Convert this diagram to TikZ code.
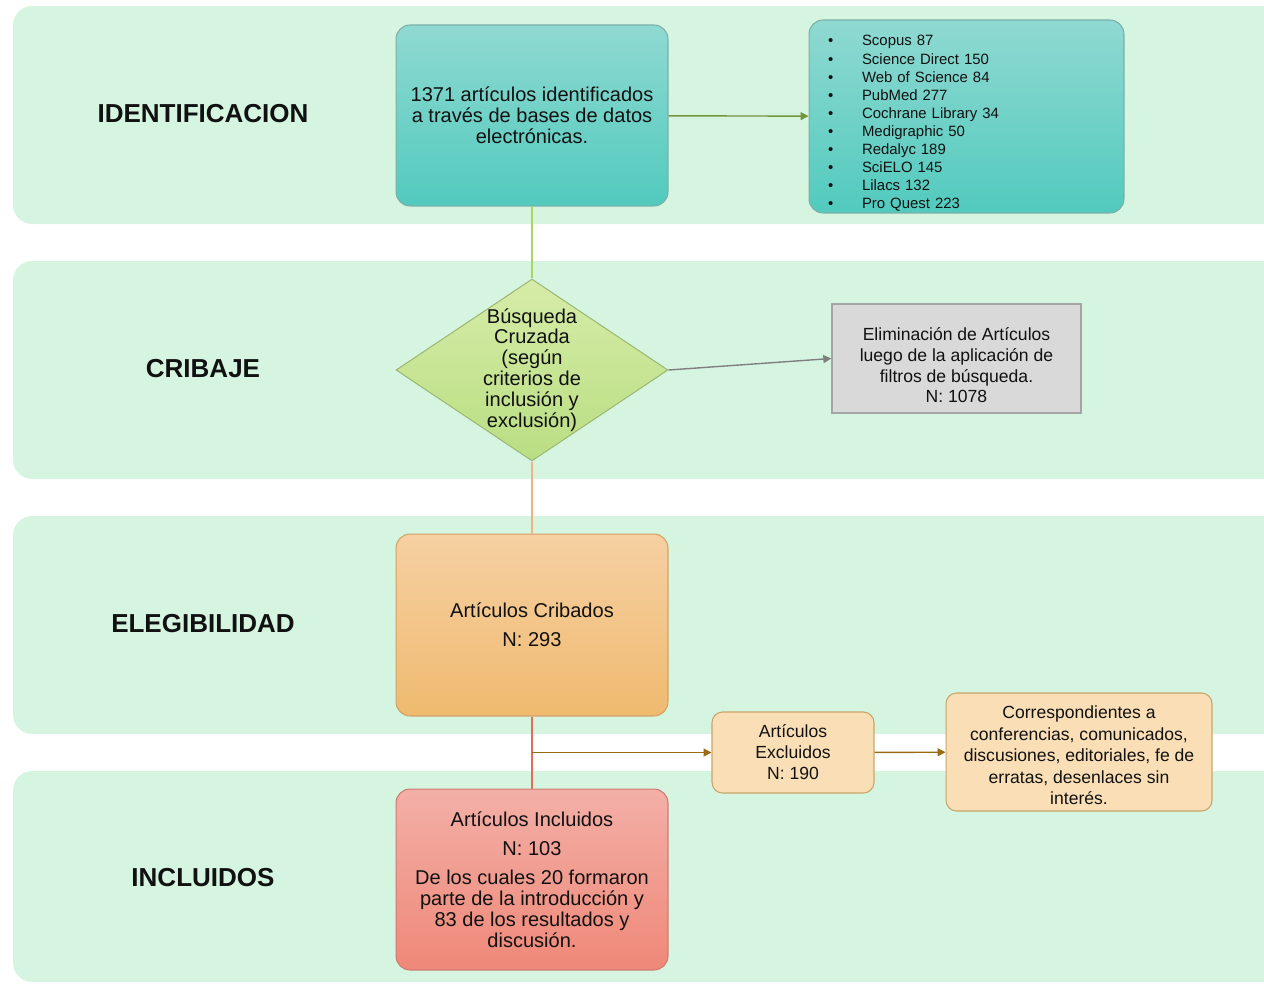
\documentclass[tikz,border=0pt]{standalone}
\usepackage{fontspec}
\setmainfont{Liberation Sans}
\usepackage{tikz}
\usetikzlibrary{shapes.geometric,arrows.meta,positioning}
\definecolor{band}{HTML}{D5F5E1}
\definecolor{ink}{HTML}{111111}
\definecolor{tealtop}{HTML}{8FD9D1}
\definecolor{tealbot}{HTML}{52CABE}
\definecolor{tealedge}{HTML}{7BAFA8}
\definecolor{limetop}{HTML}{D6ECA8}
\definecolor{limebot}{HTML}{B9DE82}
\definecolor{limeedge}{HTML}{9DB874}
\definecolor{greyfill}{HTML}{D9D9D9}
\definecolor{greyedge}{HTML}{A5A5A5}
\definecolor{orgtop}{HTML}{F6D0A2}
\definecolor{orgbot}{HTML}{EFBA6F}
\definecolor{orgedge}{HTML}{D2A266}
\definecolor{pinktop}{HTML}{F3AFA7}
\definecolor{pinkbot}{HTML}{EF8878}
\definecolor{pinkedge}{HTML}{CF7A72}
\definecolor{wheat}{HTML}{FADFB6}
\definecolor{wheatedge}{HTML}{C9A46A}
\definecolor{lime}{HTML}{A9D65E}
\definecolor{olive}{HTML}{77933C}
\definecolor{orgline}{HTML}{F4B183}
\definecolor{redline}{HTML}{E46C5C}
\definecolor{brown}{HTML}{9A6A14}
\definecolor{greyline}{HTML}{7F7F7F}
\tikzset{
  zone/.style={fill=band, rounded corners=11pt},
  phase/.style={text=ink, font=\bfseries\fontsize{14.8}{17}\selectfont},
  txt/.style={text=ink, font=\fontsize{11.4}{11.9}\selectfont, align=center},
  small/.style={text=ink, font=\fontsize{10}{11.9}\selectfont, align=center},
  card/.style={draw, line width=0.6pt, rounded corners=8pt, minimum width=5.44cm},
  tealbox/.style={card, txt, draw=tealedge, top color=tealtop, bottom color=tealbot, minimum height=3.62cm},
  listbox/.style={draw=tealedge, line width=0.6pt, rounded corners=8pt, top color=tealtop, bottom color=tealbot,
    minimum width=6.3cm, minimum height=3.86cm, text width=5.54cm, inner ysep=0pt, align=left, text=ink,
    font=\fontsize{8.5}{10.3}\selectfont},
  decision/.style={diamond, draw=limeedge, line width=0.6pt, top color=limetop, bottom color=limebot,
    inner sep=0pt, minimum width=5.44cm, minimum height=3.64cm},
  greybox/.style={small, draw=greyedge, line width=0.8pt, fill=greyfill, minimum width=4.98cm, minimum height=2.18cm},
  orgbox/.style={card, txt, draw=orgedge, top color=orgtop, bottom color=orgbot, minimum height=3.64cm},
  pinkbox/.style={card, txt, draw=pinkedge, top color=pinktop, bottom color=pinkbot, minimum height=3.62cm},
  wheatbox/.style={small, draw=wheatedge, line width=0.6pt, fill=wheat, rounded corners=6pt},
  link/.style={line width=0.8pt},
  arr/.style={link, -{Triangle[length=1.6mm,width=1.6mm]}},
}
\newcommand{\itm}[1]{\makebox[0.68cm][l]{\textbullet}#1}

\begin{document}
\begin{tikzpicture}[x=0.02cm, y=-0.02cm]
\clip (0,0) rectangle (1264,984);
% phase bands
\fill[zone] (13,6) rectangle (1300,224);
\fill[zone] (13,261) rectangle (1300,479);
\fill[zone] (13,516) rectangle (1300,734);
\fill[zone] (13,771) rectangle (1300,982);
\node[phase] (pid) at (203,114) {IDENTIFICACION};
\node[phase] (pcr) at (203,369) {CRIBAJE};
\node[phase] (pel) at (203,624) {ELEGIBILIDAD};
\node[phase] (pin) at (203,878) {INCLUIDOS};

% boxes
\node[tealbox] (ident) at (532,115.5) {1371 artículos identificados\\a través de bases de datos\\electrónicas.};
\node[listbox] (bases) at (966.5,116.5) {\rule{0pt}{14pt}\itm{Scopus 87}\\\itm{Science Direct 150}\\\itm{Web of Science 84}\\
  \itm{PubMed 277}\\\itm{Cochrane Library 34}\\\itm{Medigraphic 50}\\\itm{Redalyc 189}\\\itm{SciELO 145}\\
  \itm{Lilacs 132}\\\itm{Pro Quest 223}};
\node[decision, label={[txt]center:{Búsqueda\\Cruzada\\(según\\criterios de\\inclusión y\\exclusión)}}] (busq) at (532,370) {};
\node[greybox] (elim) at (956.5,358.5) {\rule{0pt}{15pt}Eliminación de Artículos\\luego de la aplicación de\\filtros de búsqueda.\\N: 1078};
\node[orgbox] (cribados) at (532,625) {Artículos Cribados\\[4.7pt]N: 293};
\node[pinkbox] (incluidos) at (532,879.5) {Artículos Incluidos\\[4.7pt]N: 103\\[4.7pt]De los cuales 20 formaron\\parte de la introducción y\\83 de los resultados y\\discusión.};
\node[wheatbox, minimum width=3.24cm, minimum height=1.62cm] (excl) at (793,752.5) {Artículos\\Excluidos\\N: 190};
\node[wheatbox, minimum width=5.32cm, minimum height=2.36cm, font=\fontsize{10}{12.2}\selectfont] (corresp) at (1079,752) {\rule{0pt}{11pt}Correspondientes a\\conferencias, comunicados,\\discusiones, editoriales, fe de\\erratas, desenlaces sin\\interés.};

% connectors
\coordinate (split) at (cribados.south |- excl.west);
\draw[link, lime] (ident) -- (busq);
\draw[arr, olive] (ident) -- (bases);
\draw[arr, greyline] (busq.east) -- (elim.west);
\draw[link, orgline] (busq) -- (cribados);
\draw[link, redline] (cribados) -- (incluidos);
\draw[arr, brown] (split) -- (excl);
\draw[arr, brown] (excl) -- (corresp);
\end{tikzpicture}
\end{document}
